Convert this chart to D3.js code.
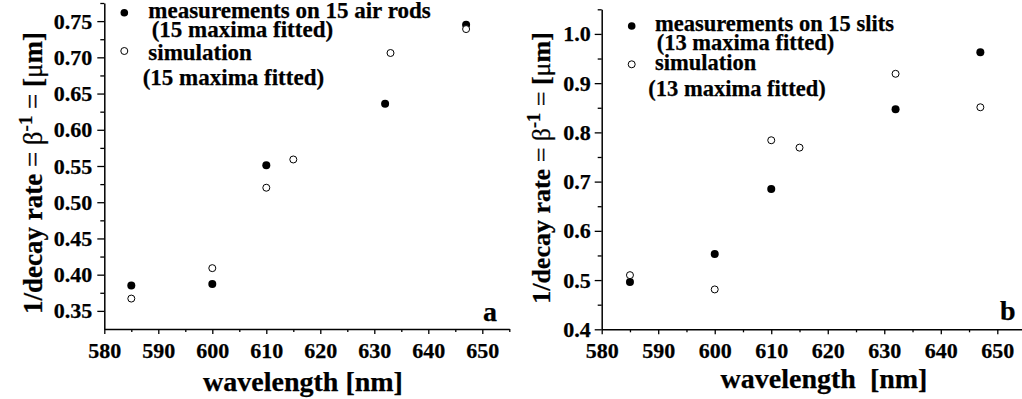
<!DOCTYPE html>
<html>
<head>
<meta charset="utf-8">
<script src="https://cdn.jsdelivr.net/npm/d3@7"></script>
<style>
  html, body { margin: 0; padding: 0; background: #fff; }
  svg { display: block; }
  text { font-family: "Liberation Serif", "Times New Roman", serif; font-weight: bold; fill: #000; stroke: #000; stroke-width: 0.25px; }
</style>
</head>
<body>
<svg id="chart" width="1022" height="399"></svg>
<script>
// Panel a: 15 air rods
const wlMeasA = [585, 600, 610, 632, 647];
const measA   = [0.385, 0.387, 0.551, 0.636, 0.745];
const wlSimA  = [585, 600, 610, 615, 633, 647];
const simA    = [0.367, 0.409, 0.520, 0.559, 0.706, 0.739];

// Panel b: 15 slits
const wlMeasB = [585, 600, 610, 632, 647];
const measB   = [0.496, 0.553, 0.685, 0.847, 0.963];
const wlSimB  = [585, 600, 610, 615, 632, 647];
const simB    = [0.510, 0.481, 0.784, 0.769, 0.919, 0.851];

// Tick values
const xTicks = [580, 590, 600, 610, 620, 630, 640, 650];
const xMinor = [585, 595, 605, 615, 625, 635, 645, 655];
const yTicksA = [0.35, 0.40, 0.45, 0.50, 0.55, 0.60, 0.65, 0.70, 0.75];
const yMinorA = [0.375, 0.425, 0.475, 0.525, 0.575, 0.625, 0.675, 0.725, 0.775];
const yTicksB = [0.4, 0.5, 0.6, 0.7, 0.8, 0.9, 1.0];
const yMinorB = [0.45, 0.55, 0.65, 0.75, 0.85, 0.95, 1.05];

// Legend and label text
const legendA = ["measurements on 15 air rods", "(15 maxima fitted)", "simulation", "(15 maxima fitted)"];
const legendB = ["measurements on 15 slits", "(13 maxima fitted)", "simulation", "(13 maxima fitted)"];
const xTitleA = "wavelength [nm]";
const xTitleB = "wavelength\u00a0\u00a0[nm]";

const svg = d3.select("#chart");

function drawPanel(p) {
  const g = svg.append("g");
  const x = d3.scaleLinear().domain([580, 655]).range([p.x0, p.x1]);
  const y = d3.scaleLinear().domain(p.yDomain).range([p.yBottom, p.yTop]);

  // y axis: minor then major ticks
  g.append("g").attr("transform", `translate(${p.x0},0)`)
    .call(d3.axisLeft(y).tickValues(p.yMinor).tickSize(4).tickSizeOuter(0).tickFormat(""))
    .call(a => a.select(".domain").remove());
  const ya = g.append("g").attr("transform", `translate(${p.x0},0)`)
    .call(d3.axisLeft(y).tickValues(p.yTicks).tickSize(7).tickSizeOuter(0)
      .tickPadding(p.yPad).tickFormat(d3.format(p.yFmt)));
  ya.selectAll("text").style("font-size", "22px");

  // x axis
  g.append("g").attr("transform", `translate(0,${p.yBottom})`)
    .call(d3.axisBottom(x).tickValues(xMinor).tickSize(3).tickSizeOuter(0).tickFormat(""))
    .call(a => a.select(".domain").remove());
  const xa = g.append("g").attr("transform", `translate(0,${p.yBottom})`)
    .call(d3.axisBottom(x).tickValues(xTicks).tickSize(5).tickSizeOuter(0).tickPadding(8).tickFormat(d3.format("d")));
  xa.selectAll("text").style("font-size", "22px");

  g.selectAll("g").attr("font-family", null).attr("font-size", null);
  g.selectAll(".domain").attr("stroke-width", 1.5);
  g.selectAll(".tick line").attr("stroke-width", 1.3);

  // data points
  g.selectAll("circle.meas").data(p.meas).join("circle")
    .attr("class", "meas")
    .attr("cx", (d, i) => x(p.wlMeas[i])).attr("cy", d => y(d))
    .attr("r", 4).attr("fill", "#000");
  g.selectAll("circle.sim").data(p.sim).join("circle")
    .attr("class", "sim")
    .attr("cx", (d, i) => x(p.wlSim[i])).attr("cy", d => y(d))
    .attr("r", 3.5).attr("fill", "#fff").attr("stroke", "#000").attr("stroke-width", 1);

  // legend
  const L = p.legend;
  g.append("circle").attr("cx", L.mx).attr("cy", L.my1).attr("r", 3.8).attr("fill", "#000");
  g.append("circle").attr("cx", L.mx).attr("cy", L.my2).attr("r", 3.5)
    .attr("fill", "#fff").attr("stroke", "#000").attr("stroke-width", 1);
  L.rows.forEach(r => {
    g.append("text").attr("x", r.x).attr("y", r.y).style("font-size", L.size + "px").text(r.t);
  });

  // panel letter
  g.append("text").attr("x", p.letterX).attr("y", p.letterY).style("font-size", "28px").text(p.letter);

  // x title
  g.append("text").attr("x", p.xTitleX).attr("y", p.xTitleY).attr("text-anchor", "middle")
    .style("font-size", "28px").text(p.xTitle);

  // y title (rotated)
  const yt = g.append("text")
    .attr("transform", `translate(${p.yTitleX},${p.yTitleY}) rotate(-90)`)
    .attr("text-anchor", "middle").style("font-size", p.yTitleSize + "px");
  yt.append("tspan").text("1/decay rate ");
  yt.append("tspan").attr("font-weight", "normal").text("= \u03b2");
  yt.append("tspan").attr("dy", "-0.55em").style("font-size", "0.7em").text("-1");
  yt.append("tspan").attr("dy", "0.385em").attr("font-weight", "normal").text(" = ");
  yt.append("tspan").text("[");
  yt.append("tspan").attr("font-weight", "normal").text("\u03bc");
  yt.append("tspan").text("m]");
}

drawPanel({
  x0: 104.3, x1: 509.3, yBottom: 329, yTop: 3, yDomain: [0.325, 0.775],
  yTicks: yTicksA, yMinor: yMinorA, yFmt: ".2f", yPad: 5,
  wlMeas: wlMeasA, meas: measA, wlSim: wlSimA, sim: simA,
  legend: {
    mx: 124.3, my1: 12.7, my2: 51, size: 23,
    rows: [
      { x: 148.3, y: 18, t: legendA[0] },
      { x: 151.7, y: 37, t: legendA[1] },
      { x: 148.3, y: 59.5, t: legendA[2] },
      { x: 142.7, y: 85, t: legendA[3] }
    ]
  },
  letter: "a", letterX: 483, letterY: 320.7,
  xTitle: xTitleA, xTitleX: 303, xTitleY: 391,
  yTitleX: 42, yTitleY: 173, yTitleSize: 27
});

drawPanel({
  x0: 601.7, x1: 601.7 + 75 * (997.3 - 601.7) / 70, yBottom: 329.3, yTop: 9.3, yDomain: [0.4, 1.05],
  yTicks: yTicksB, yMinor: yMinorB, yFmt: ".1f", yPad: 4,
  wlMeas: wlMeasB, meas: measB, wlSim: wlSimB, sim: simB,
  legend: {
    mx: 631.7, my1: 26, my2: 64.3, size: 22.5,
    rows: [
      { x: 655, y: 31, t: legendB[0] },
      { x: 656.7, y: 50, t: legendB[1] },
      { x: 655, y: 69.5, t: legendB[2] },
      { x: 648.3, y: 96, t: legendB[3] }
    ]
  },
  letter: "b", letterX: 1000, letterY: 320,
  xTitle: xTitleB, xTitleX: 824, xTitleY: 388,
  yTitleX: 550, yTitleY: 168, yTitleSize: 26
});
</script>
</body>
</html>
